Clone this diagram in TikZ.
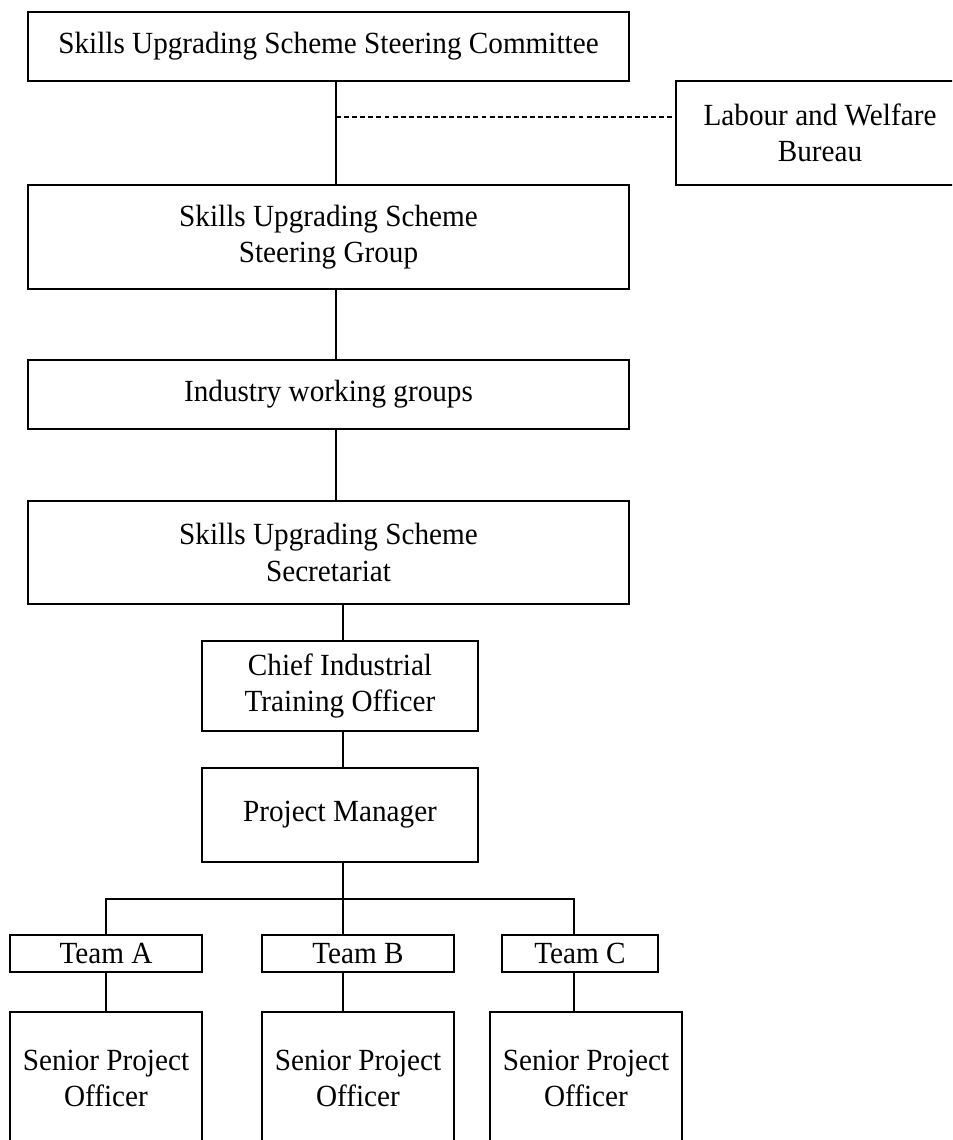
\documentclass[tikz,border=0pt]{standalone}
\usepackage{fontspec}
\setmainfont[FakeStretch=0.95]{Liberation Serif}

\begin{document}
\begin{tikzpicture}[
  unit/.style={draw, line width=0.7pt, inner sep=0pt, align=center,
    font=\fontsize{17.5}{20.8}\selectfont},
  link/.style={line width=0.7pt}]
\useasboundingbox (0,0) rectangle (19.04,-22.8);
\clip (0,0) rectangle (19.04,-22.8);
%%%%%%%%%%%%%%%%
\node[unit, minimum width=12.02cm, minimum height=1.38cm] (committee) at (6.57,-0.93)
{Skills Upgrading Scheme Steering Committee};
\node[unit, minimum width=5.76cm, minimum height=2.08cm] (bureau) at (16.4,-2.66)
{Labour and Welfare\\Bureau};
\node[unit, minimum width=12.02cm, minimum height=2.08cm] (steering) at (6.57,-4.74)
{Skills Upgrading Scheme\\Steering Group};
\node[unit, minimum width=12.02cm, minimum height=1.38cm] (industry) at (6.57,-7.89)
{Industry working groups};
\node[unit, minimum width=12.02cm, minimum height=2.06cm] (secretariat) at (6.57,-11.05)
{Skills Upgrading Scheme\\Secretariat};
%%%%%%%%%%%%%%%%
\node[unit, minimum width=5.52cm, minimum height=1.8cm] (chief) at (6.8,-13.72)
{Chief Industrial\\Training Officer};
\node[unit, minimum width=5.52cm, minimum height=1.88cm] (manager) at (6.8,-16.3)
{Project Manager};
%%%%%%%%%%%%%%%%
\node[unit, minimum width=3.84cm, minimum height=0.74cm] (teamA) at (2.12,-19.07) {Team A};
\node[unit, minimum width=3.84cm, minimum height=0.74cm] (teamB) at (7.16,-19.07) {Team B};
\node[unit, minimum width=3.12cm, minimum height=0.74cm] (teamC) at (11.6,-19.07) {Team C};
\node[unit, minimum width=3.84cm, minimum height=2.66cm] (seniorA) at (2.12,-21.57)
{Senior Project\\Officer};
\node[unit, minimum width=3.84cm, minimum height=2.66cm] (seniorB) at (7.16,-21.57)
{Senior Project\\Officer};
\node[unit, minimum width=3.84cm, minimum height=2.66cm] (seniorC) at (11.72,-21.57)
{Senior Project\\Officer};
%%%%%%%%%%%%%%%%
\coordinate (spine) at (6.72,0);
\coordinate (stem) at (6.86,0);
\coordinate (tap) at (6.72,-2.34);
\coordinate (bus) at (0,-17.98);
\coordinate (tapC) at (11.48,0);
%%%%%%%%%%%%%%%%
\draw[link] (committee.south -| spine) -- (steering.north -| spine);
\draw[link, dash pattern=on 2.8pt off 1.8pt] (tap) -- (tap -| bureau.west);
\draw[link] (steering.south -| spine) -- (industry.north -| spine);
\draw[link] (industry.south -| spine) -- (secretariat.north -| spine);
\draw[link] (secretariat.south -| stem) -- (chief.north -| stem);
\draw[link] (chief.south -| stem) -- (manager.north -| stem);
\draw[link] (manager.south -| stem) -- (teamB.north -| stem);
\draw[link] (teamA.north) |- (bus -| tapC) -- (teamC.north -| tapC);
%%%%%%%%%%%%%%%%
\draw[link] (teamA.south) -- (seniorA.north);
\draw[link] (teamB.south -| stem) -- (seniorB.north -| stem);
\draw[link] (teamC.south -| tapC) -- (seniorC.north -| tapC);
\end{tikzpicture}
\end{document}
